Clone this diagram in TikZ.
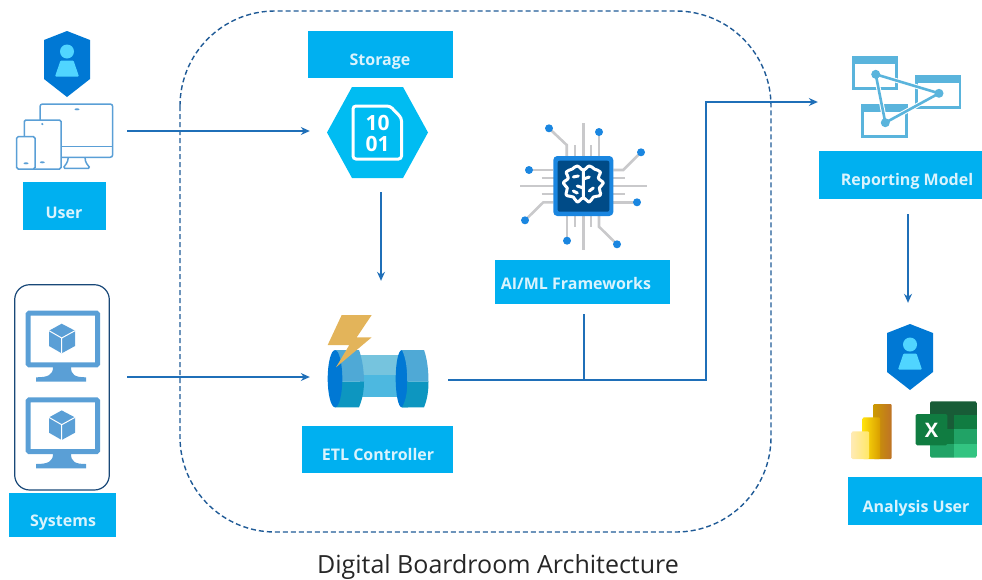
\documentclass[tikz,border=0pt]{standalone}
\usepackage{fontspec}
\setmainfont{Open Sans}
\usetikzlibrary{arrows.meta}
\definecolor{boxblue}{HTML}{00B0F0}
\definecolor{flowblue}{HTML}{1F6FB8}
\definecolor{dashblue}{HTML}{1F5A96}
\definecolor{iconblue}{HTML}{5A9FD6}
\definecolor{hexblue}{HTML}{00BCF2}
\definecolor{shieldblue}{HTML}{0078D4}
\definecolor{personblue}{HTML}{50D5FF}
\definecolor{winblue}{HTML}{5AB4DC}
\definecolor{drumtop}{HTML}{4FA9D6}
\definecolor{drumlow}{HTML}{0D96C0}
\definecolor{pipetop}{HTML}{76C4DE}
\definecolor{pipelow}{HTML}{4DB8E0}
\definecolor{boltgold}{HTML}{E3B45A}
\definecolor{chipedge}{HTML}{1A86E0}
\definecolor{chipcore}{HTML}{004B87}
\definecolor{tracegray}{HTML}{C9C9CB}
\definecolor{xlone}{HTML}{185C37}
\definecolor{xltwo}{HTML}{107C41}
\definecolor{xlthree}{HTML}{21A366}
\definecolor{xlfour}{HTML}{33C481}
\tikzset{
	labelbox/.style={fill=boxblue,inner sep=0pt},
	labeltext/.style={font=\fontsize{16}{18}\selectfont\bfseries,text=white!85!boxblue,inner sep=0pt},
	slot/.style={inner sep=0pt},
	flow/.style={color=flowblue,line width=1.1pt},
	flowarrow/.style={flow,>={Stealth[length=9pt,width=8pt]},->},
	trace/.style={color=tracegray,line width=2.6pt},
	tip/.style={fill=chipedge},
	device/.style={draw=iconblue,line width=1.5pt,rounded corners=1.5pt},
	windowicon/.style={draw=winblue,line width=2.6pt,fill=white}
}
\begin{document}
\begin{tikzpicture}[x=1pt,y=-1pt]
	\useasboundingbox (0,0) rectangle (982,579);
	% big dashed frame
	\draw[color=dashblue,line width=1.4pt,dash pattern=on 5pt off 3pt,rounded corners=95pt] (180,11) rectangle (771,532);

	% labels
	\node[labelbox,minimum width=145pt,minimum height=47pt] (storagebox) at (380.5,54.5) {};
	\node[labeltext] (storagetext) at (380,62) {Storage};
	\node[labelbox,minimum width=83pt,minimum height=48pt] (userbox) at (64.5,206) {};
	\node[labeltext] (usertext) at (64,212.5) {User};
	\node[labelbox,minimum width=107pt,minimum height=44pt] (systemsbox) at (62.5,515) {};
	\node[labeltext] (systemstext) at (63,523) {Systems};
	\node[labelbox,minimum width=151pt,minimum height=47pt] (etlbox) at (377.5,449.5) {};
	\node[labeltext] (etltext) at (378,454) {ETL Controller};
	\node[labelbox,minimum width=175pt,minimum height=44pt] (aimlbox) at (582.5,282) {};
	\node[labeltext] (aimltext) at (576,283) {AI/ML Frameworks};
	\node[labelbox,minimum width=163pt,minimum height=48pt] (reportbox) at (900.5,175) {};
	\node[labeltext] (reporttext) at (907,181) {Reporting Model};
	\node[labelbox,minimum width=134pt,minimum height=48pt] (analysisbox) at (915,501) {};
	\node[labeltext] (analysistext) at (916,508) {Analysis User};

	\node[font=\fontsize{25}{28}\selectfont,text=black!85,inner sep=0pt,anchor=base] (caption) at (498,573) {Digital Boardroom Architecture};

	% places the connectors run between
	\node[slot,minimum width=124pt,minimum height=80pt] (user) at (65,131) {};
	\node[slot,minimum width=124pt,minimum height=80pt] (systems) at (65,377) {};
	\node[slot,minimum width=142pt,minimum height=122pt] (storage) at (381,131) {};
	\node[slot,minimum width=138pt,minimum height=198pt] (etl) at (379,380) {};
	\node[slot,minimum width=180pt,minimum height=224pt] (report) at (908,102) {};
	\node[slot,minimum width=100pt,minimum height=194pt] (analysis) at (908,400) {};
	\coordinate (aimlfoot) at (584,314);
	\coordinate (bend) at (706,102);

	% connectors
	\draw[flowarrow] (user.east) -- (storage.west);
	\draw[flowarrow] (systems.east) -- (systems.east -| etl.west);
	\draw[flowarrow] (storage.south) -- (storage.south |- etl.north);
	\draw[flowarrow] (etl.east) -| (bend) -- (report.west);
	\draw[flow] (aimlfoot) -- (aimlfoot |- etl.east);
	\draw[flowarrow] (report.south) -- (analysis.north);

	% shields
	\foreach \sx/\sy in {67/64,910/357}{
	\begin{scope}[shift={(\sx,\sy)}]
		\fill[shieldblue] (0,-33) -- (23,-24) -- (23,15) -- (0,33) -- (-23,15) -- (-23,-24) -- cycle;
		\fill[personblue] (0,-12.5) circle (7);
		\fill[personblue,rounded corners=1pt] (-6.5,-3.5) -- (6.5,-3.5) -- (12,12.5) -- (-12,12.5) -- cycle;
	\end{scope}
	}

	% user devices
	\draw[device,rounded corners=2.5pt] (40,104) rectangle (112.7,157.3);
	\draw[device] (61,146.7) -- (112.7,146.7);
	\draw[device] (68.3,157.3) .. controls (68,163) and (65,165) .. (63.3,168.3) -- (90,168.3) .. controls (88,165) and (85,163) .. (85,157.3);
	\draw[device,fill=white] (24.3,120) rectangle (61,169);
	\draw[device,fill=white] (16.7,136.7) rectangle (35,169);
	\fill[iconblue] (77,109.3) ellipse (2.5 and 1);
	\fill[iconblue] (42.3,124) circle (1.2);
	\fill[iconblue] (42.3,162.3) ellipse (2.5 and 1);
	\fill[iconblue] (26,163.3) ellipse (2.5 and 1);

	% system monitors
	\draw[color=dashblue!80!black,line width=1.2pt,rounded corners=15pt] (14.7,284.7) rectangle (109.3,490);
	\foreach \my in {0,86.7}{
	\begin{scope}[shift={(0,\my)}]
		\draw[color=iconblue,line width=5pt,rounded corners=1pt] (28.2,313.2) rectangle (97.5,364.8);
		\fill[iconblue] (53,367) .. controls (53,375) and (48,377.3) .. (36,377.3) -- (36,381.7) -- (86,381.7) -- (86,377.3) .. controls (75,377.3) and (71,375) .. (71,367) -- cycle;
		\fill[iconblue] (61.7,323.7) -- (75,330.7) -- (75,346) -- (61.7,353.3) -- (49,346) -- (49,330.7) -- cycle;
		\draw[color=white,line width=1pt] (49,330.7) -- (61.7,338) -- (75,330.7) (61.7,338) -- (61.7,353.3);
	\end{scope}
	}

	% storage
	\fill[hexblue] (352,87) -- (403,87) -- (428,132.5) -- (403,178) -- (352,178) -- (327,132.5) -- cycle;
	\draw[color=white,line width=3pt,rounded corners=3pt] (353,106) -- (390,106) -- (401.5,118) -- (401.5,159) -- (353,159) -- cycle;
	\node[text=white,font=\fontsize{21}{22}\selectfont\bfseries,inner sep=0pt] (bits1) at (377.7,122.7) {10};
	\node[text=white,font=\fontsize{21}{22}\selectfont\bfseries,inner sep=0pt] (bits2) at (377.7,144) {01};

	% etl pipe
	\fill[pipetop] (360,355) rectangle (402,375);
	\fill[pipelow] (360,375) rectangle (402,396.7);
	\fill[drumtop] (335,350) -- (359,350) .. controls (362,358) and (364,370) .. (364,381.7) -- (335,381.7) -- cycle;
	\fill[drumlow] (335,381.7) -- (364,381.7) .. controls (364,392) and (362,400) .. (359,407.3) -- (335,407.3) -- cycle;
	\fill[drumtop] (402,350) -- (424,350) .. controls (427,358) and (428.5,370) .. (428.5,381.7) -- (402,381.7) -- cycle;
	\fill[drumlow] (402,381.7) -- (428.5,381.7) .. controls (428.5,392) and (427,400) .. (424,407.3) -- (402,407.3) -- cycle;
	\fill[shieldblue] (335,378.7) ellipse (7.3 and 28.6);
	\fill[shieldblue] (401.7,378.7) ellipse (6 and 28.6);
	\fill[color=drumtop] (402,350) -- (408,350) -- (408,381.7) -- (407,381.7) .. controls (407.5,370) and (406,358) .. (402,350);
	\fill[color=drumlow] (402,407.3) -- (408,407.3) -- (408,381.7) -- (407,381.7) .. controls (407.5,392) and (406,400) .. (402,407.3);
	\fill[boltgold] (341.7,315) -- (371.7,315) -- (356.7,337.3) -- (371.7,337.3) -- (336,367.3) -- (349.3,345) -- (327.7,345) -- cycle;

	% ai chip
	\draw[trace] (583.3,123.3) -- (583.3,250);
	\draw[trace] (520,186) -- (646.7,186);
	\draw[trace] (575,145) -- (575,226.7);
	\draw[trace] (591,145) -- (591,226.7);
	\draw[trace] (541.7,178) -- (625,178);
	\draw[trace] (541.7,194) -- (625,194);
	\draw[trace] (549,128.3) -- (566.7,145) -- (566.7,156);
	\draw[trace] (599,132) -- (599,156);
	\draw[trace] (641,152.3) -- (623.3,170) -- (613.3,170);
	\draw[trace] (529,170) -- (553.3,170);
	\draw[trace] (637,202.3) -- (613.3,202.3);
	\draw[trace] (525,220.3) -- (543.3,202.3) -- (553.3,202.3);
	\draw[trace] (567,240.7) -- (567,216);
	\draw[trace] (617,244.3) -- (599,226.7) -- (599,216);
	\foreach \dx/\dy in {549/128.3,599/132,641/152.3,529/170,637/202.3,525/220.3,567/240.7,617/244.3}
		\fill[tip] (\dx,\dy) circle (4);
	\fill[chipedge,rounded corners=4pt] (553.3,156) rectangle (613.3,216);
	\fill[chipcore,rounded corners=2pt] (557.7,160.7) rectangle (609.3,211.7);
	\begin{scope}[shift={(583.3,184)}]
		\draw[color=white,line width=3pt,line join=round,fill=chipcore] plot[smooth cycle,tension=0.7] coordinates {(0,-14) (-6,-18) (-11,-15) (-17,-12) (-15,-6) (-20,-1) (-16,4) (-17,11) (-10,13) (-6,18) (0,14) (6,18) (10,13) (17,11) (16,4) (20,-1) (15,-6) (17,-12) (11,-15) (6,-18)};
		\draw[color=white,line width=3pt,line cap=round] (0,-14) -- (0,14) (0,-5) -- (6,-7) (0,4) -- (-6,2) (-10,-7) -- (-5,-8) (10,4) -- (6,7) (-10,7) -- (-6,9);
	\end{scope}

	% reporting model icon
	\draw[windowicon] (853.3,57.3) rectangle (896.7,88.3);
	\fill[winblue] (853.3,57.3) rectangle (896.7,63.5);
	\draw[windowicon] (916.7,76.7) rectangle (960,107.3);
	\fill[winblue] (916.7,76.7) rectangle (960,83);
	\draw[windowicon] (862.7,105.7) rectangle (906.7,136.7);
	\fill[winblue] (862.7,105.7) rectangle (906.7,112);
	\draw[color=white,line width=4.6pt,line join=round] (875.7,74.3) -- (939,93.3) -- (885.3,122.7) -- cycle;
	\draw[color=winblue,line width=2.6pt,line join=round] (875.7,74.3) -- (939,93.3) -- (885.3,122.7) -- cycle;
	\foreach \dx/\dy in {875.7/74.3,939/93.3,885.3/122.7}
		\fill[winblue] (\dx,\dy) circle (4.5);

	% power bi
	\shade[left color=orange!50!yellow!80!black,right color=orange!70!black!85,rounded corners=1pt] (873.3,404) rectangle (891.7,459);
	\shade[left color=yellow!75!orange!95!white,right color=orange!55!yellow!85!black,rounded corners=1pt] (862.7,417.3) rectangle (880,459);
	\shade[left color=yellow!45!orange!30!white,right color=yellow!70!orange!60!white,rounded corners=1pt] (851.7,431.3) rectangle (869,459);

	% excel
	\begin{scope}
		\clip[rounded corners=1.5pt] (930,401.3) rectangle (977,457.7);
		\fill[xlone] (930,401.3) rectangle (977,415);
		\fill[xlone] (930,415) rectangle (954,429.3);
		\fill[xltwo] (954,415) rectangle (977,429.3);
		\fill[xltwo] (930,429.3) rectangle (954,443.7);
		\fill[xlthree] (954,429.3) rectangle (977,443.7);
		\fill[xlthree] (930,443.7) rectangle (954,457.7);
		\fill[xlfour] (954,443.7) rectangle (977,457.7);
	\end{scope}
	\fill[xltwo,rounded corners=1.5pt] (915.7,414) rectangle (947.3,445.3);
	\node[text=white,font=\fontsize{20}{22}\selectfont\bfseries,inner sep=0pt] (excelx) at (931.5,430) {X};
\end{tikzpicture}
\end{document}
